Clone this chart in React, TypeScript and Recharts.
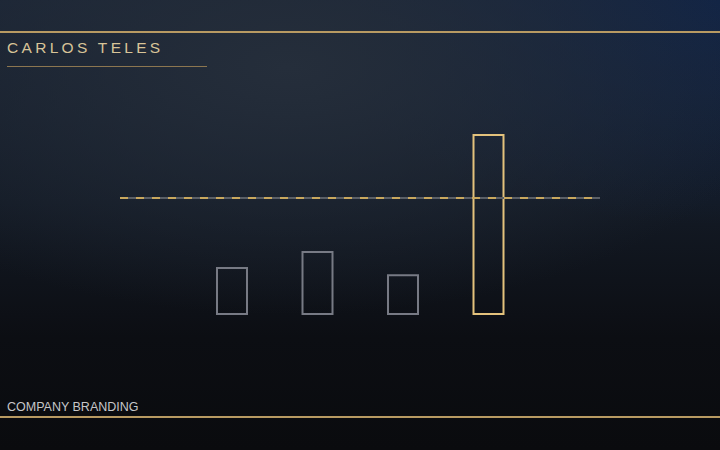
import { BarChart, Bar, Cell, XAxis, YAxis, ReferenceLine } from "recharts"

const categories = ["A", "B", "C", "D"]
const values = [25.5, 34.5, 21.5, 99.5]
const target = 64.5
const highlight = "D"

const chartData = categories.map((c, i) => ({ name: c, value: values[i] }))

const App = () => {
  return (
    <div
      style={{
        position: "absolute",
        top: 0,
        left: 0,
        width: 720,
        height: 450,
        overflow: "hidden",
        background:
          "radial-gradient(ellipse 70% 55% at 40% 15%, #252e3b 0%, rgba(37,46,59,0) 100%), radial-gradient(ellipse 60% 50% at 100% 0%, #112446 0%, rgba(17,36,70,0) 100%), linear-gradient(180deg, #1a2434 0%, #131a25 45%, #0c0e13 75%, #0a0b0e 100%)",
        fontFamily: "'Liberation Sans', Arial, sans-serif",
      }}
    >
      {/* top rule */}
      <div style={{ position: "absolute", top: 31, left: 0, width: 720, height: 2, background: "#b89a62" }} />
      <div
        style={{
          position: "absolute",
          top: 39,
          left: 7,
          fontSize: 15.5,
          letterSpacing: 3.3,
          color: "#d8c498",
          lineHeight: "18px",
        }}
      >
        CARLOS TELES
      </div>
      <div style={{ position: "absolute", top: 66, left: 7, width: 200, height: 1, background: "#8c7650" }} />

      <div style={{ position: "absolute", top: 0, left: 0 }}>
        <BarChart
          width={720}
          height={450}
          data={chartData}
          margin={{ top: 134, right: 120, bottom: 136, left: 120 }}
        >
          <XAxis dataKey="name" hide padding={{ left: 69, right: 69 }} />
          <YAxis hide domain={[0, 100]} />
          <ReferenceLine y={target} stroke="#5a5f67" strokeWidth={2} />
          <ReferenceLine y={target} stroke="#c9a85e" strokeWidth={2} strokeDasharray="8 8" />
          <Bar dataKey="value" barSize={30} isAnimationActive={false}>
            {chartData.map((d) => (
              <Cell
                key={d.name}
                fill="none"
                stroke={d.name === highlight ? "#e3c27c" : "#777a84"}
                strokeWidth={2}
              />
            ))}
          </Bar>
        </BarChart>
      </div>

      <div
        style={{
          position: "absolute",
          top: 400,
          left: 7,
          fontSize: 12.5,
          color: "#c6c6c8",
          lineHeight: "15px",
        }}
      >
        COMPANY BRANDING
      </div>
      {/* bottom rule */}
      <div style={{ position: "absolute", top: 416, left: 0, width: 720, height: 2, background: "#b89a62" }} />
    </div>
  )
}

export default App
